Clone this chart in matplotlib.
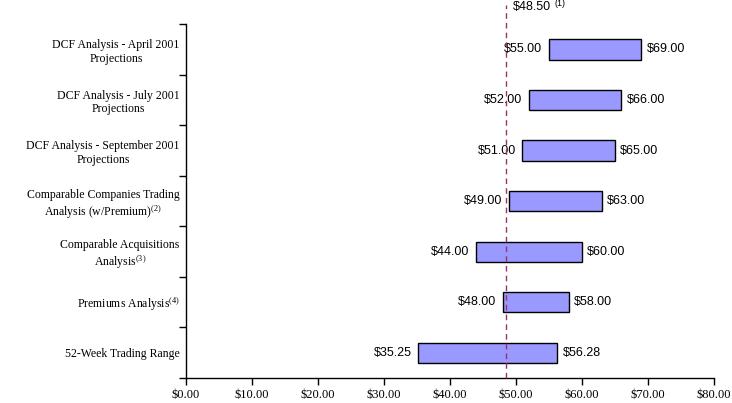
import numpy as np
import matplotlib.pyplot as plt

plt.rcParams['font.family'] = ['Liberation Serif', 'DejaVu Serif']
plt.rcParams['mathtext.fontset'] = 'custom'
plt.rcParams['mathtext.rm'] = 'Liberation Serif'
plt.rcParams['mathtext.it'] = 'Liberation Serif'

categories = [
    "DCF Analysis - April 2001\nProjections",
    "DCF Analysis - July 2001\nProjections",
    "DCF Analysis - September 2001\nProjections",
    "Comparable Companies Trading\nAnalysis (w/Premium)$^{(2)}$",
    "Comparable Acquisitions\nAnalysis$^{(3)}$",
    "Premiums Analysis$^{(4)}$",
    "52-Week Trading Range",
]
low = [55.00, 52.00, 51.00, 49.00, 44.00, 48.00, 35.25]
high = [69.00, 66.00, 65.00, 63.00, 60.00, 58.00, 56.28]
current_price = 48.50
xticks = np.arange(0, 81, 10)

fig = plt.figure(figsize=(7.32, 4.03), dpi=100)
ax = fig.add_axes([0.254, 0.062, 0.721, 0.878])

n = len(categories)
y = np.arange(n)[::-1]
widths = np.array(high) - np.array(low)
ax.barh(y, widths, left=low, height=0.4, color='#9999FF',
        edgecolor='black', linewidth=1, zorder=2)

for yi, lo, hi in zip(y, low, high):
    ax.text(lo - 1.0, yi, f"${lo:.2f}", ha='right', va='center',
            fontsize=9, family=['Liberation Sans'])
    ax.text(hi + 0.8, yi, f"${hi:.2f}", ha='left', va='center',
            fontsize=9, family=['Liberation Sans'])

# current share price marker
ax.plot([current_price, current_price], [-0.5, n - 0.5 + 0.38],
        color='#993366', linestyle=(0, (4, 3)), linewidth=1,
        clip_on=False, zorder=3)
ax.text(current_price + 1.0, n - 0.5 + 0.33, f"${current_price:.2f}",
        ha='left', va='center', fontsize=9, family=['Liberation Sans'])
ax.text(current_price + 7.4, n - 0.5 + 0.40, "(1)",
        ha='left', va='center', fontsize=6.5, family=['Liberation Sans'])

ax.set_xlim(0, 80)
ax.set_ylim(-0.5, n - 0.5)
ax.set_xticks(xticks)
ax.set_xticklabels([f"${v:.2f}" for v in xticks], fontsize=9)
ax.set_yticks(y)
ax.set_yticklabels(categories, fontsize=8.5, multialignment='center')
ax.set_yticks(np.arange(n + 1) - 0.5, minor=True)
ax.tick_params(axis='y', which='major', length=0, pad=4.5)
ax.tick_params(axis='y', which='minor', length=5, width=1, direction='out')
ax.tick_params(axis='x', length=5, width=1, direction='out', pad=3)

for s in ['top', 'right']:
    ax.spines[s].set_visible(False)
ax.spines['left'].set_linewidth(1)
ax.spines['bottom'].set_linewidth(1)

fig.savefig('out.png', dpi=100)
